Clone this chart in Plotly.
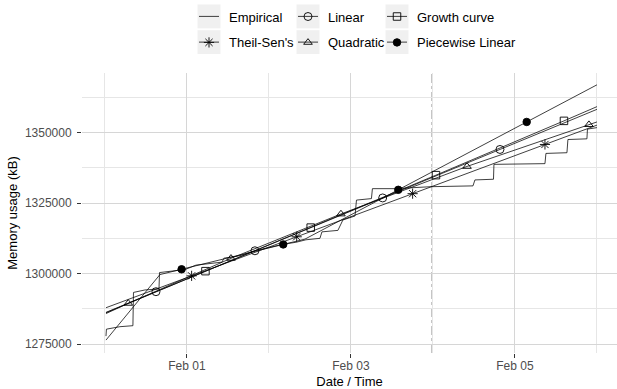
import plotly.graph_objects as go

# ---------------- data ----------------
emp_time = ["2015-01-31 00:18", "2015-01-31 00:26", "2015-01-31 04:23", "2015-01-31 08:11",
            "2015-01-31 08:21", "2015-01-31 11:43", "2015-01-31 15:49", "2015-01-31 15:58",
            "2015-01-31 19:37", "2015-01-31 23:25", "2015-02-01 02:38", "2015-02-01 05:51",
            "2015-02-01 10:15", "2015-02-01 10:49", "2015-02-01 15:30", "2015-02-01 19:54",
            "2015-02-02 00:17", "2015-02-02 04:06", "2015-02-02 07:54", "2015-02-02 10:49",
            "2015-02-02 14:56", "2015-02-02 15:30", "2015-02-02 20:11", "2015-02-02 21:39",
            "2015-02-03 01:11", "2015-02-03 01:37", "2015-02-03 06:00", "2015-02-03 06:17",
            "2015-02-03 12:53", "2015-02-03 23:25", "2015-02-04 11:43", "2015-02-04 12:17",
            "2015-02-04 17:43", "2015-02-04 17:51", "2015-02-05 08:47", "2015-02-05 09:04",
            "2015-02-05 15:13", "2015-02-05 15:30", "2015-02-05 21:04", "2015-02-05 21:13",
            "2015-02-06 00:00"]
emp_mem = [1277817, 1280282, 1281162, 1281514, 1293310, 1294191, 1294543, 1300353,
           1300881, 1301409, 1302993, 1303522, 1304050, 1305458, 1306338, 1308099,
           1309331, 1310388, 1311092, 1311972, 1312500, 1314789, 1315317, 1319014,
           1320423, 1326057, 1326585, 1330106, 1330106, 1330810, 1331092, 1333205,
           1333451, 1338732, 1338979, 1342606, 1342852, 1347535, 1347782, 1351232,
           1351761]

lin_time = ["2015-01-31 00:18", "2015-02-06 00:00"]
lin_mem = [1286233, 1358239]
lin_mark_time = ["2015-01-31 14:56", "2015-02-01 19:54", "2015-02-03 09:17", "2015-02-04 19:37"]
lin_mark_mem = [1293568, 1308082, 1326817, 1344013]

ts_time = ["2015-01-31 00:18", "2015-02-06 00:00"]
ts_mem = [1287888, 1352641]
ts_mark_time = ["2015-02-01 01:22", "2015-02-02 08:07", "2015-02-03 18:03", "2015-02-05 08:47"]
ts_mark_mem = [1299189, 1313041, 1328332, 1345786]

gr_time = ["2015-01-31 00:18", "2015-02-01 05:25", "2015-02-02 12:13", "2015-02-04 00:53",
           "2015-02-05 14:21", "2015-02-06 00:00"]
gr_mem = [1286100, 1300850, 1316300, 1334900, 1354150, 1359200]
gr_mark_time = ["2015-02-01 05:25", "2015-02-02 12:13", "2015-02-04 00:53", "2015-02-05 14:21"]
gr_mark_mem = [1300850, 1316300, 1334900, 1354150]

qd_time = ["2015-01-31 00:18", "2015-01-31 06:49", "2015-02-01 12:53", "2015-02-02 21:04",
           "2015-02-04 09:58", "2015-02-05 21:39", "2015-02-06 00:00"]
qd_mem = [1285810, 1289437, 1305400, 1321127, 1337990, 1352817, 1353768]
qd_mark_time = ["2015-01-31 06:49", "2015-02-01 12:53", "2015-02-02 21:04", "2015-02-04 09:58",
                "2015-02-05 21:39"]
qd_mark_mem = [1289437, 1305400, 1321127, 1337990, 1352817]

pw_time = ["2015-01-31 00:18", "2015-01-31 16:06", "2015-02-02 10:32", "2015-02-06 00:00"]
pw_mem = [1276409, 1299648, 1312219, 1366937]
pw_mark_time = ["2015-01-31 22:26", "2015-02-02 04:11", "2015-02-03 13:51", "2015-02-05 03:26"]
pw_mark_mem = [1301525, 1310334, 1329705, 1353769]

split_time = "2015-02-03 23:42"

x_tick0 = "2015-02-01"
x_range = ["2015-01-30 17:17", "2015-02-06 05:52"]
y_range = [1271831, 1371127]

# ---------------- layout geometry ----------------
W, H = 617, 389
ML, MT, MR, MB = 82, 73, 0, 34
PW, PH = W - ML - MR, H - MT - MB
FONT = "Liberation Sans, Arial, sans-serif"
DAY = 86400000


def px_x(px):
    return (px - ML) / PW


def px_y(py):
    return (MT + PH - py) / PH


fig = go.Figure()

LW = 0.75
ML_W = 0.9

models = [
    # name, legend, rank, line x, line y, mark x, mark y, symbol, size
    ("Empirical", "legend", 1, emp_time, emp_mem, None, None, None, 0),
    ("Theil-Sen's", "legend", 2, ts_time, ts_mem, ts_mark_time, ts_mark_mem, "asterisk-open", 8.5),
    ("Linear", "legend2", 3, lin_time, lin_mem, lin_mark_time, lin_mark_mem, "circle-open", 8),
    ("Quadratic", "legend2", 4, qd_time, qd_mem, qd_mark_time, qd_mark_mem, "triangle-up-open", 7.5),
    ("Growth curve", "legend3", 5, gr_time, gr_mem, gr_mark_time, gr_mark_mem, "square-open", 7.5),
    ("Piecewise Linear", "legend3", 6, pw_time, pw_mem, pw_mark_time, pw_mark_mem, "circle", 7.5),
]

for name, lg, rank, lx, ly, mx, my, sym, sz in models:
    fig.add_trace(go.Scatter(
        x=lx, y=ly, mode="lines", name=name, legend=lg, legendgroup=name,
        showlegend=False, line=dict(color="black", width=LW), hoverinfo="skip"))
    if mx is not None:
        fig.add_trace(go.Scatter(
            x=mx, y=my, mode="markers", name=name, legend=lg, legendgroup=name,
            showlegend=True, legendrank=rank,
            marker=dict(symbol=sym, size=sz, color="black",
                        line=dict(color="black", width=ML_W))))
    else:
        fig.add_trace(go.Scatter(
            x=[None], y=[None], mode="markers", name=name, legend=lg, legendgroup=name,
            showlegend=True, legendrank=rank,
            marker=dict(symbol="circle", size=6, color="rgba(0,0,0,0)")))

# legend key decorations (gray key boxes + short key lines)
shapes = []
leg_left = [189, 288, 377]
row_c = [16, 41.9]
for lx in leg_left:
    cx = lx + 20
    for ry in row_c:
        shapes.append(dict(type="rect", xref="paper", yref="paper",
                           x0=px_x(cx - 11.5), x1=px_x(cx + 11.5),
                           y0=px_y(ry + 12), y1=px_y(ry - 12),
                           fillcolor="#f0f0f0", line=dict(width=0), layer="below"))
        shapes.append(dict(type="line", xref="paper", yref="paper",
                           x0=px_x(cx - 10), x1=px_x(cx + 10),
                           y0=px_y(ry), y1=px_y(ry),
                           line=dict(color="black", width=LW), layer="above"))

# vertical dash-dot split line
shapes.append(dict(type="line", xref="x", yref="paper", x0=split_time, x1=split_time,
                   y0=0, y1=1, line=dict(color="#9a9a9a", width=1, dash="dashdot"),
                   layer="below"))

leg_common = dict(orientation="v", xanchor="left", yanchor="top",
                  bgcolor="rgba(0,0,0,0)", borderwidth=0, tracegroupgap=6,
                  font=dict(family=FONT, size=13, color="black"),
                  itemclick=False, itemdoubleclick=False)
ytop = px_y(1.05)

fig.update_layout(
    width=W, height=H,
    margin=dict(l=ML, r=MR, t=MT, b=MB, pad=0),
    paper_bgcolor="white", plot_bgcolor="white",
    font=dict(family=FONT, size=12, color="#4d4d4d"),
    shapes=shapes,
    legend=dict(x=px_x(leg_left[0]), y=ytop, **leg_common),
    legend2=dict(x=px_x(leg_left[1]), y=ytop, **leg_common),
    legend3=dict(x=px_x(leg_left[2]), y=ytop, **leg_common),
    xaxis=dict(
        type="date", range=x_range, tick0=x_tick0, dtick=2 * DAY, tickformat="%b %d",
        showgrid=True, gridcolor="#d6d6d6", gridwidth=1,
        minor=dict(dtick=DAY, tick0="2015-01-31", showgrid=True, gridcolor="#e6e6e6",
                   gridwidth=0.6),
        ticks="outside", ticklen=4, tickwidth=1, tickcolor="#333333",
        ticklabelstandoff=-2,
        tickfont=dict(family=FONT, size=12, color="#4d4d4d"),
        showline=False, zeroline=False,
        title=dict(text="Date / Time", font=dict(family=FONT, size=13, color="black"),
                   standoff=6),
    ),
    yaxis=dict(
        range=y_range, tick0=1275000, dtick=25000, tickformat="d",
        showgrid=True, gridcolor="#d6d6d6", gridwidth=1,
        minor=dict(dtick=12500, tick0=1275000, showgrid=True, gridcolor="#e6e6e6",
                   gridwidth=0.6),
        ticks="outside", ticklen=4, tickwidth=1, tickcolor="#333333",
        ticklabelstandoff=3,
        tickfont=dict(family=FONT, size=12, color="#4d4d4d"),
        showline=False, zeroline=False,
        title=dict(text="Memory usage (kB)", font=dict(family=FONT, size=13, color="black"),
                   standoff=4),
    ),
)

# the page body has a default 8px margin; remove it so the figure fills the window
fig.write_html("out.html",
               config={"displayModeBar": False},
               post_script="document.body.style.margin='0';document.body.style.overflow='hidden';")
